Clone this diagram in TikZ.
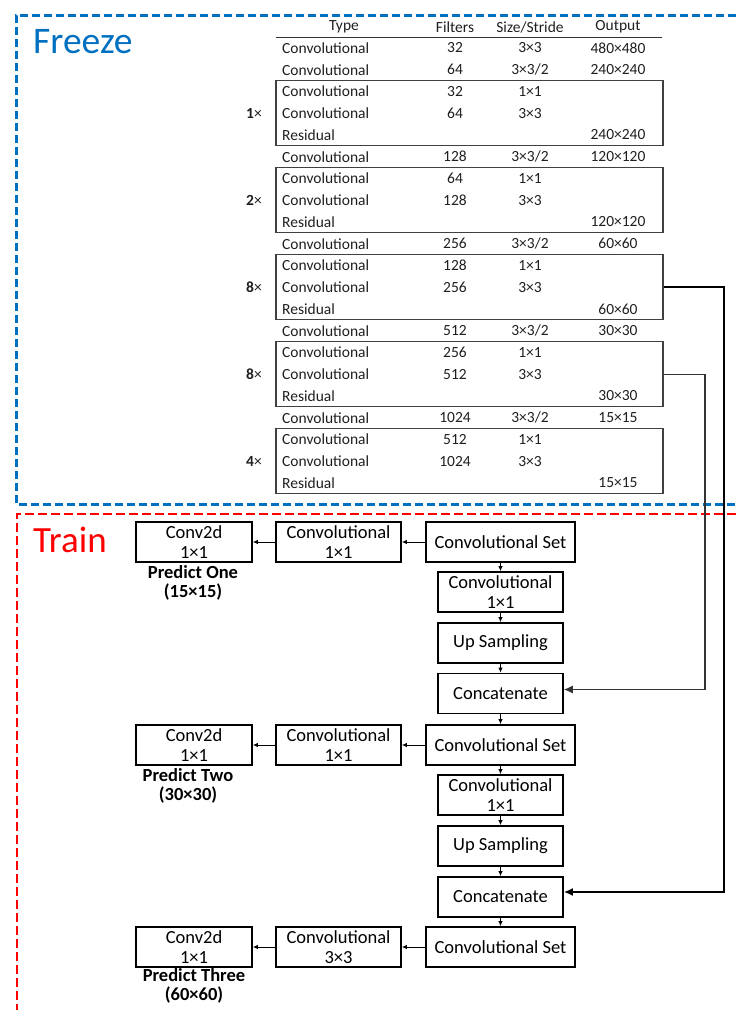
\documentclass[tikz,border=0pt]{standalone}
\usepackage{fontspec}
\setmainfont{Carlito}
\usetikzlibrary{arrows.meta}
\definecolor{freezeblue}{HTML}{0070C0}
\definecolor{trainred}{HTML}{FF0000}
\begin{document}
\begin{tikzpicture}[x=1pt,y=-1pt,
  cellL/.style={anchor=west,inner sep=0pt,text=black!88,font=\fontsize{15.5}{18}\selectfont},
  cellC/.style={anchor=center,inner sep=0pt,text=black!88,font=\fontsize{15.5}{18}\selectfont},
  blk/.style={draw=black!75,line width=1.3pt,minimum width=387pt,minimum height=65pt,inner sep=0pt},
  mult/.style={inner sep=0pt,text=black!88,font=\fontsize{15.5}{18}\selectfont},
  layer/.style={draw,line width=1.6pt,inner sep=0pt,align=center,
    minimum height=40pt,font=\fontsize{18.5}{20}\selectfont},
  wide/.style={layer,minimum width=149pt},
  mid/.style={layer,minimum width=125pt},
  small/.style={layer,minimum width=116pt},
  pred/.style={inner sep=0pt,align=center,font=\bfseries\fontsize{18.5}{19}\selectfont},
  flow/.style={line width=1pt,-{Latex[length=5pt,width=4.5pt]}},
  route/.style={line width=2pt,-{Latex[length=9pt,width=8pt]}},
  routethin/.style={line width=1.2pt,draw=black!80,-{Latex[length=9pt,width=8pt]}},
]
\useasboundingbox (0,0) rectangle (736,1010);

% section frames
\draw[freezeblue,line width=3pt,dash pattern=on 8pt off 4pt]
  (736,15) -- (16,15) -- (16,504) -- (736,504);
\draw[trainred,line width=2.8pt,dash pattern=on 9pt off 4pt]
  (736,514) -- (17,514) -- (17,1010);
\node[anchor=base west,inner sep=0pt,text=freezeblue,font=\fontsize{37.5}{36}\selectfont] (freeze) at (33,53) {Freeze};
\node[anchor=base west,inner sep=0pt,text=trainred,font=\fontsize{37}{36}\selectfont] (train) at (33,552) {Train};

% backbone table
\node[cellC] (hType) at (344,27) {Type};
\node[cellC] (hFilt) at (455,27) {Filters};
\node[cellC] (hSize) at (530,27) {Size/Stride};
\node[cellC] (hOut) at (618,27) {Output};
\draw[line width=1.3pt,black!80] (276,37.5) -- (662,37.5);

\foreach \i/\t in {0/Convolutional,1/Convolutional,2/Convolutional,3/Convolutional,4/Residual,
  5/Convolutional,6/Convolutional,7/Convolutional,8/Residual,
  9/Convolutional,10/Convolutional,11/Convolutional,12/Residual,
  13/Convolutional,14/Convolutional,15/Convolutional,16/Residual,
  17/Convolutional,18/Convolutional,19/Convolutional,20/Residual}
  \node[cellL] (type\i) at (282,{48+\i*21.75}) {\t};

\foreach \i/\f in {0/32,1/64,2/32,3/64,5/128,6/64,7/128,9/256,10/128,11/256,
  13/512,14/256,15/512,17/1024,18/512,19/1024}
  \node[cellC] (filt\i) at (455,{48+\i*21.75}) {\f};

\foreach \i/\s in {0/3×3,1/{3×3/2},2/1×1,3/3×3,5/{3×3/2},6/1×1,7/3×3,
  9/{3×3/2},10/1×1,11/3×3,13/{3×3/2},14/1×1,15/3×3,17/{3×3/2},18/1×1,19/3×3}
  \node[cellC] (size\i) at (530,{48+\i*21.75}) {\s};

\foreach \i/\o in {0/480×480,1/240×240,4/240×240,5/120×120,8/120×120,
  9/60×60,12/60×60,13/30×30,16/30×30,17/15×15,20/15×15}
  \node[cellC] (out\i) at (618,{48+\i*21.75}) {\o};

% residual blocks with repeat counts
\foreach \k/\r/\n in {1/3/1,2/7/2,3/11/8,4/15/8,5/19/4}{
  \node[blk] (blk\k) at (469.5,{48+\r*21.75}) {};
  \node[mult] (mult\k) at (254,{48+\r*21.75}) {\textbf{\n}×};
}

% detection head
\node[small] (p1) at (194,542) {Conv2d\\1×1};
\node[mid]   (c1) at (338.5,542) {Convolutional\\1×1};
\node[wide]  (s1) at (500.5,542) {Convolutional Set};
\node[mid]   (v1) at (500.5,592) {Convolutional\\1×1};
\node[mid]   (u1) at (500.5,643) {Up Sampling};
\node[mid]   (cat1) at (500.5,693.5) {Concatenate};
\node[wide]  (s2) at (500.5,745) {Convolutional Set};
\node[mid]   (c2) at (338.5,745) {Convolutional\\1×1};
\node[small] (p2) at (194,745) {Conv2d\\1×1};
\node[mid]   (v2) at (500.5,795) {Convolutional\\1×1};
\node[mid]   (u2) at (500.5,846) {Up Sampling};
\node[mid]   (cat2) at (500.5,897) {Concatenate};
\node[wide]  (s3) at (500.5,947) {Convolutional Set};
\node[mid]   (c3) at (338.5,947) {Convolutional\\3×3};
\node[small] (p3) at (194,947) {Conv2d\\1×1};

\node[pred] (pl1) at (193,582.5) {Predict One\\(15×15)};
\node[pred] (pl2) at (188,785.5) {Predict Two\\(30×30)};
\node[pred] (pl3) at (194,986) {Predict Three\\(60×60)};

\draw[flow] (s1) -- (c1);
\draw[flow] (c1) -- (p1);
\draw[flow] (s1) -- (v1);
\draw[flow] (v1) -- (u1);
\draw[flow] (u1) -- (cat1);
\draw[flow] (cat1) -- (s2);
\draw[flow] (s2) -- (c2);
\draw[flow] (c2) -- (p2);
\draw[flow] (s2) -- (v2);
\draw[flow] (v2) -- (u2);
\draw[flow] (u2) -- (cat2);
\draw[flow] (cat2) -- (s3);
\draw[flow] (s3) -- (c3);
\draw[flow] (c3) -- (p3);

% skip connections from the backbone
\coordinate (bend8a) at (724,{48+11*21.75});
\coordinate (bend8b) at (705,{48+15*21.75});
\draw[route] (blk3.east) -- (bend8a) |- ([yshift=5pt]cat2.east);
\draw[routethin] (blk4.east) -- (bend8b) |- ([yshift=4pt]cat1.east);
\end{tikzpicture}
\end{document}
